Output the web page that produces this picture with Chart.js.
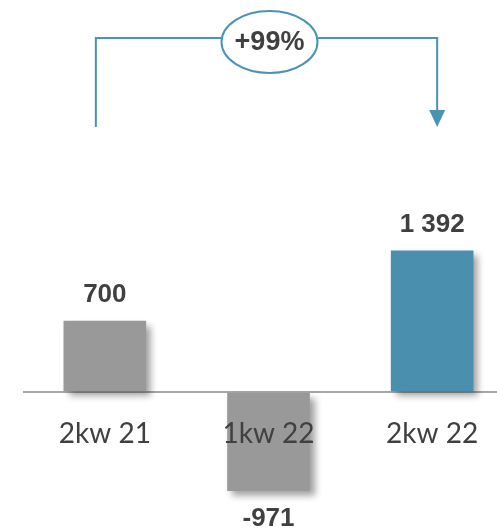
<!DOCTYPE html>
<html>
<head>
<meta charset="utf-8">
<script src="https://cdn.jsdelivr.net/npm/chart.js@4"></script>
<style>
  html, body { margin: 0; padding: 0; background: #fff; overflow: hidden; }
  #wrap { width: 497px; height: 529px; overflow: hidden; position: relative; }
  canvas { position: absolute; left: 0; top: 0; }
</style>
</head>
<body>
<div id="wrap"><canvas id="chart" width="514" height="529"></canvas></div>
<script>
const categories = ['2kw 21', '1kw 22', '2kw 22'];
const values = [700, -971, 1392];
const valueLabels = ['700', '-971', '1 392'];
const barColors = ['#999999', '#999999', '#4a8fae'];

const textColor = '#404040';
const lineColor = '#4a93b3';

// soft drop shadow on the bars
const barShadow = {
  id: 'barShadow',
  beforeDatasetsDraw(chart) {
    const ctx = chart.ctx;
    ctx.save();
    ctx.shadowColor = 'rgba(0,0,0,0.38)';
    ctx.shadowBlur = 7;
    ctx.shadowOffsetX = 5;
    ctx.shadowOffsetY = 5;
  },
  afterDatasetsDraw(chart) {
    chart.ctx.restore();
  }
};

const labelsPlugin = {
  id: 'labelsPlugin',
  afterDraw(chart) {
    const ctx = chart.ctx;
    const x = chart.scales.x;
    const y = chart.scales.y;
    const zero = y.getPixelForValue(0);
    const meta = chart.getDatasetMeta(0);

    ctx.save();
    ctx.textAlign = 'center';
    ctx.textBaseline = 'middle';

    // category names sit just under the zero line
    ctx.fillStyle = textColor;
    ctx.font = '28px Lato, "Open Sans", sans-serif';
    categories.forEach((c, i) => {
      ctx.fillText(c, x.getPixelForValue(i), zero + 42);
    });

    // value labels
    ctx.font = 'bold 26px "Liberation Sans", Arial, sans-serif';
    meta.data.forEach((bar, i) => {
      const yy = values[i] >= 0 ? bar.y - 26 : bar.y + 28;
      ctx.fillText(valueLabels[i], bar.x, yy);
    });

    // bracket arrow with growth bubble
    const left = x.getPixelForValue(0) - 9;
    const right = x.getPixelForValue(2) + 5;
    const top = 38;
    const bottom = 127;
    ctx.strokeStyle = lineColor;
    ctx.fillStyle = lineColor;
    ctx.lineWidth = 2;
    ctx.beginPath();
    ctx.moveTo(left, bottom);
    ctx.lineTo(left, top);
    ctx.lineTo(right, top);
    ctx.lineTo(right, bottom - 14);
    ctx.stroke();
    ctx.beginPath();
    ctx.moveTo(right - 8, bottom - 17);
    ctx.lineTo(right + 8, bottom - 17);
    ctx.lineTo(right, bottom);
    ctx.closePath();
    ctx.fill();

    const cx = x.getPixelForValue(1) + 1;
    const cy = 42;
    ctx.beginPath();
    ctx.ellipse(cx, cy, 48, 31, 0, 0, Math.PI * 2);
    ctx.fillStyle = '#fff';
    ctx.fill();
    ctx.stroke();

    const growth = Math.round((values[2] / values[0] - 1) * 100);
    ctx.fillStyle = textColor;
    ctx.font = 'bold 27px "Liberation Sans", Arial, sans-serif';
    ctx.fillText('+' + growth + '%', cx, cy + 1);
    ctx.restore();
  }
};

new Chart(document.getElementById('chart'), {
  type: 'bar',
  data: {
    labels: categories,
    datasets: [{
      data: values,
      backgroundColor: barColors,
      borderWidth: 0,
      barThickness: 82
    }]
  },
  options: {
    responsive: false,
    animation: false,
    layout: { padding: { left: 23, right: 0, top: 189, bottom: 5 } },
    plugins: { legend: { display: false }, tooltip: { enabled: false } },
    scales: {
      x: {
        display: false,
        grid: { display: false }
      },
      y: {
        min: -1300,
        max: 2000,
        ticks: { display: false, stepSize: 100 },
        border: { display: false },
        grid: {
          drawTicks: false,
          lineWidth: 2,
          color: ctx => ctx.tick.value === 0 ? '#a6a6a6' : 'rgba(0,0,0,0)'
        }
      }
    }
  },
  plugins: [barShadow, labelsPlugin]
});
</script>
</body>
</html>
